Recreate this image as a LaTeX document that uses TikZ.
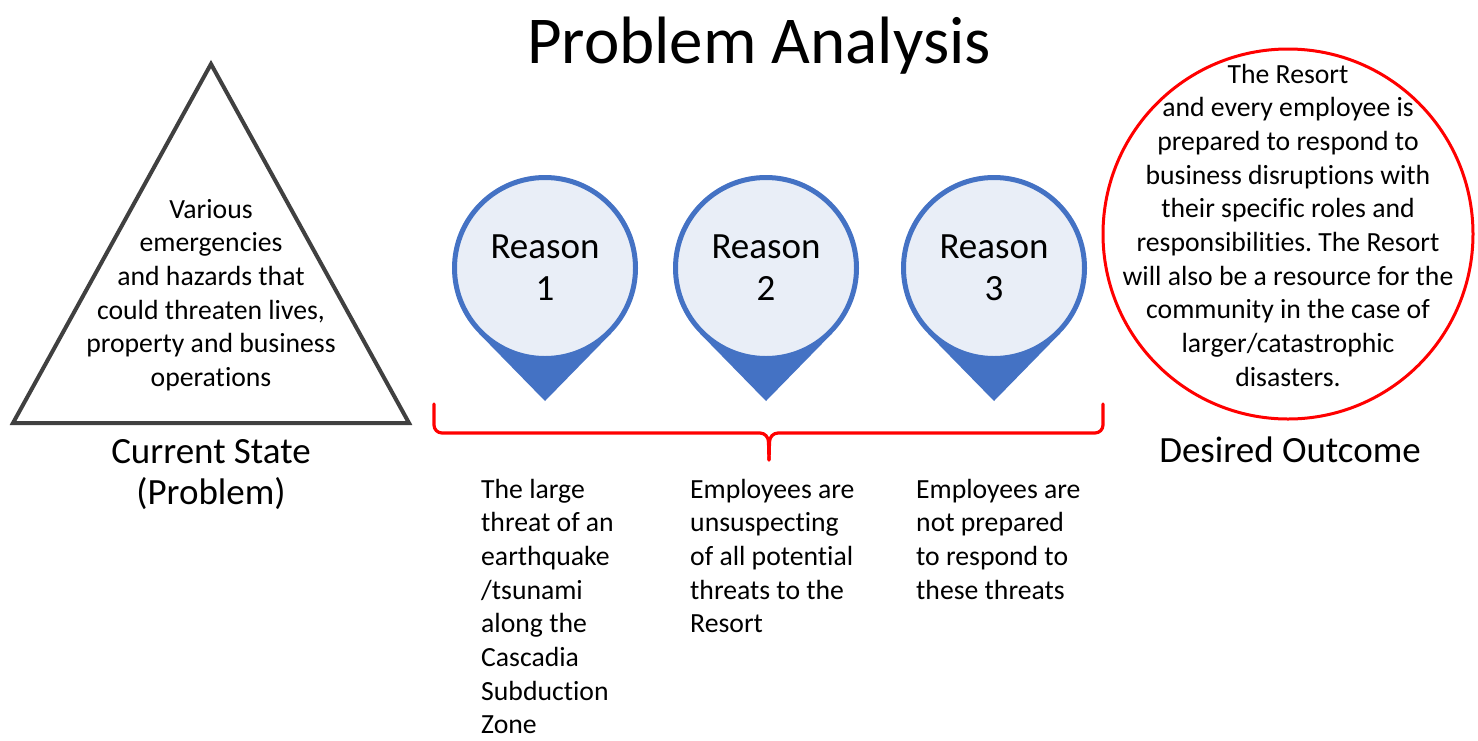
\documentclass[tikz,border=0pt]{standalone}
\usepackage{fontspec}
\setmainfont{Carlito}[RawFeature={-liga}]
\usetikzlibrary{calc}
\definecolor{pinblue}{HTML}{4472C4}
\definecolor{pinfill}{HTML}{E9EEF7}
\definecolor{tricol}{HTML}{404040}
\definecolor{bred}{HTML}{FF0000}
\frenchspacing
\begin{document}
\begin{tikzpicture}[x=1pt,y=-1pt,
  body/.style={font=\fontsize{27.7}{33.7}\selectfont, inner sep=0pt, align=center},
  bodyl/.style={font=\fontsize{27.7}{33.7}\selectfont, inner sep=0pt, align=left, anchor=base west},
  caption/.style={font=\fontsize{37}{41}\selectfont, inner sep=0pt, align=center, anchor=base},
  pinc/.style={circle, draw=pinblue, line width=5pt, fill=pinfill, minimum size=181pt, inner sep=0pt,
     align=center, font=\fontsize{37}{42}\selectfont},
  pintip/.style={fill=pinblue},
  bracecol/.style={draw=bred, line width=3.2pt, line cap=round, line join=round}
]
\useasboundingbox (0,0) rectangle (1478,740);

% title
\node[inner sep=0pt, anchor=base, font=\fontsize{67}{70}\selectfont] (title) at (759,63) {Problem Analysis};

% triangle
\coordinate (ta) at (211,64);
\coordinate (tb) at (13,423);
\coordinate (tc) at (409,423);
\draw[draw=tricol, line width=4pt, line join=miter] (ta) -- (tb) -- (tc) -- cycle;
% anchor=base is the baseline of the last line
\node[body, anchor=base] (trit) at (211,386.5) {Various\\emergencies\\and hazards that\\could threaten lives,\\property and business\\operations};
\node[caption] (cur) at (211,504) {Current State\\(Problem)};

% pins
\foreach \i/\x in {1/545,2/766,3/994}{
  \coordinate (c\i) at (\x,268);
  \coordinate (tip\i) at (\x,401);
  \fill[pintip] (tip\i) -- ($(c\i)+(-66,65.5)$) -- (c\i) -- ($(c\i)+(66,65.5)$) -- cycle;
}
\node[pinc] (r1) at (c1) {Reason\\1};
\node[pinc] (r2) at (c2) {Reason\\2};
\node[pinc] (r3) at (c3) {Reason\\3};

% brace
\coordinate (bl) at (434,404);
\coordinate (bm) at (769,460);
\coordinate (br) at (1103,404);
\draw[bracecol] (bl) -- (434,425) to[out=-90,in=180] (442,433) -- (760,433)
  to[out=0,in=90] (768.5,442) -- (bm);
\draw[bracecol] (br) -- (1103,425) to[out=-90,in=0] (1095,433) -- (778,433)
  to[out=180,in=90] (769.5,442) -- (bm);

% reason texts
\node[bodyl] (t1) at (481,733.9) {The large\\threat of an\\earthquake\\/tsunami\\along the\\Cascadia\\Subduction\\Zone};
\node[bodyl] (t2) at (690,632.8) {Employees are\\unsuspecting\\of all potential\\threats to the\\Resort};
\node[bodyl] (t3) at (916,599.1) {Employees are\\not prepared\\to respond to\\these threats};

% desired outcome
\node[circle, draw=bred, line width=3pt, minimum size=370pt, inner sep=0pt] (goal) at (1288,234) {};
\node[body, anchor=base] (goalt) at (1288,386.3) {The Resort\\and every employee is\\prepared to respond to\\business disruptions with\\their specific roles and\\responsibilities. The Resort\\will also be a resource for the\\community in the case of\\larger/catastrophic\\disasters.};
\node[caption] (des) at (1290,462) {Desired Outcome};
\end{tikzpicture}
\end{document}
